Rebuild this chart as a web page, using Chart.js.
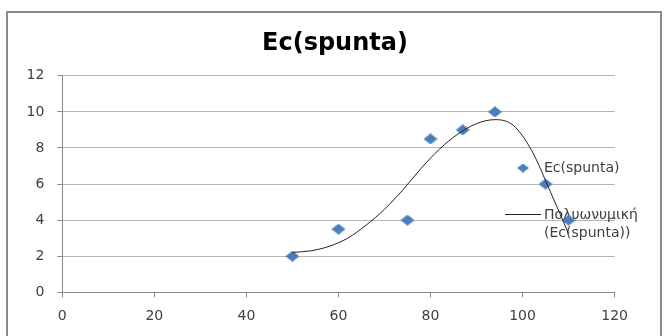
<!DOCTYPE html>
<html>
<head>
<meta charset="utf-8">
<script src="https://cdn.jsdelivr.net/npm/chart.js@4.4.1/dist/chart.umd.min.js"></script>
<style>
  html, body { margin: 0; padding: 0; background: #fff; }
  #wrap { position: relative; width: 664px; height: 336px; }
  canvas { display: block; }
</style>
</head>
<body>
<div id="wrap"><canvas id="c" width="664" height="336"></canvas></div>
<script>
// ---- data ----
const chartTitle = "Ec(spunta)";
const seriesLabel = "Ec(spunta)";
const trendLabel = "Πολυωνυμική (Ec(spunta))";
const xValues = [50, 60, 75, 80, 87, 94, 105, 110];
const yValues = [2, 3.5, 4, 8.5, 9, 10, 6, 4];
// polynomial trendline
const trendX = [50, 54, 58, 62, 66, 70, 74, 78, 82, 86, 90, 94, 98, 102, 106, 110];
const trendY = [2.21, 2.30, 2.55, 3.0, 3.72, 4.6, 5.68, 6.88, 7.95, 8.78, 9.35, 9.57, 9.25, 7.85, 5.6, 3.25];
const xTicks = [0, 20, 40, 60, 80, 100, 120];
const yTicks = [0, 2, 4, 6, 8, 10, 12];

const BLUE = '#4A7EBB';
function diamond(w, h) {
  const cv = document.createElement('canvas');
  cv.width = w; cv.height = h;
  const g = cv.getContext('2d');
  g.fillStyle = BLUE;
  g.beginPath();
  g.moveTo(w / 2, 0); g.lineTo(w, h / 2); g.lineTo(w / 2, h); g.lineTo(0, h / 2);
  g.closePath(); g.fill();
  return cv;
}
const marker = diamond(14, 11);
const legendMarker = diamond(12, 9);

const scatterPts = xValues.map((x, i) => ({ x: x, y: yValues[i] }));
const trendPts = trendX.map((x, i) => ({ x: x, y: trendY[i] }));

const frame = {
  id: 'frame',
  beforeDraw(chart) {
    const ctx = chart.ctx;
    ctx.save();
    ctx.strokeStyle = '#8a8a8a';
    ctx.lineWidth = 2;
    ctx.strokeRect(7, 12, 654, 340);
    ctx.restore();
  }
};

const customLegend = {
  id: 'customLegend',
  beforeDatasetsDraw(chart) {
    const ctx = chart.ctx;
    const ds = chart.data.datasets;
    ctx.save();
    ctx.font = '14px "DejaVu Sans"';
    ctx.fillStyle = '#404040';
    ctx.textBaseline = 'middle';
    ctx.textAlign = 'left';
    // series entry
    ctx.drawImage(legendMarker, 523 - 6, 168 - 4.5);
    ctx.fillText(ds[1].label, 544, 168);
    // trendline entry
    ctx.strokeStyle = '#222';
    ctx.lineWidth = 1;
    ctx.beginPath();
    ctx.moveTo(505, 214.5); ctx.lineTo(541, 214.5);
    ctx.stroke();
    const parts = ds[0].label.split(' ');
    ctx.fillText(parts[0], 544, 215);
    ctx.fillText(parts.slice(1).join(' '), 544, 233);
    ctx.restore();
  }
};

new Chart(document.getElementById('c'), {
  type: 'scatter',
  data: {
    datasets: [
      {
        label: trendLabel,
        data: trendPts,
        showLine: true,
        borderColor: '#222222',
        borderWidth: 1,
        pointRadius: 0,
        pointHoverRadius: 0,
        fill: false,
        cubicInterpolationMode: 'monotone',
        order: 0
      },
      {
        label: seriesLabel,
        data: scatterPts,
        pointStyle: marker,
        backgroundColor: BLUE,
        borderColor: BLUE,
        showLine: false,
        order: 1
      }
    ]
  },
  plugins: [frame, customLegend],
  options: {
    responsive: false,
    animation: false,
    events: [],
    layout: { padding: { left: 6, right: 0, top: 0, bottom: 0 } },
    plugins: {
      legend: { display: false },
      tooltip: { enabled: false },
      title: {
        display: true,
        text: chartTitle,
        color: '#000',
        font: { family: '"DejaVu Sans"', size: 24, weight: 'bold', lineHeight: 1.2 },
        padding: { top: 29, bottom: 18 }
      }
    },
    scales: {
      x: {
        type: 'linear',
        min: 0, max: 120,
        afterBuildTicks(scale) { scale.ticks = xTicks.map(v => ({ value: v })); },
        afterFit(scale) { scale.height = 43.7; },
        ticks: {
          color: '#404040',
          padding: 11,
          font: { family: '"DejaVu Sans"', size: 14 }
        },
        grid: {
          drawOnChartArea: false,
          drawTicks: true,
          tickLength: 5,
          tickColor: '#8a8a8a',
          color: '#8a8a8a'
        },
        border: { color: '#8a8a8a', width: 1 }
      },
      y: {
        type: 'linear',
        min: 0, max: 12,
        afterBuildTicks(scale) { scale.ticks = yTicks.map(v => ({ value: v })); },
        afterFit(scale) { scale.width = 56.3; },
        ticks: {
          color: '#404040',
          padding: 13,
          font: { family: '"DejaVu Sans"', size: 14 }
        },
        grid: {
          color: '#b4b4b4',
          lineWidth: 1,
          drawTicks: true,
          tickLength: 5,
          tickColor: '#8a8a8a'
        },
        border: { color: '#8a8a8a', width: 1 }
      },
      spacer: {
        type: 'linear',
        position: 'right',
        display: true,
        min: 0, max: 12,
        afterFit(scale) { scale.width = 49.4; },
        ticks: { display: false },
        grid: { display: false, drawTicks: false },
        border: { display: false }
      }
    }
  }
});
</script>
</body>
</html>
